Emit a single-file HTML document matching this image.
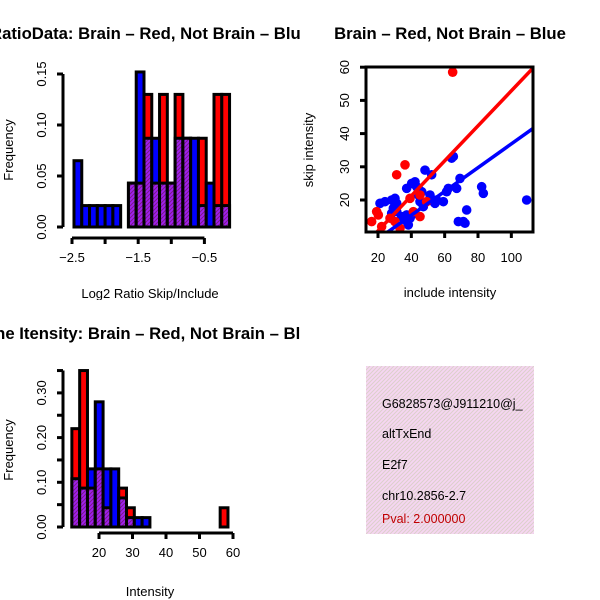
<!DOCTYPE html>
<html><head><meta charset="utf-8"><style>
html,body{margin:0;padding:0;background:#fff;}
svg{display:block;font-family:"Liberation Sans",sans-serif;}
</style></head><body>
<svg id="fig" width="600" height="600" xmlns="http://www.w3.org/2000/svg">
<defs>
<clipPath id="q1"><rect x="0" y="0" width="300" height="300"/></clipPath>
<clipPath id="q3"><rect x="0" y="300" width="300" height="300"/></clipPath>
<clipPath id="q4"><rect x="366" y="366" width="168" height="168"/></clipPath>
<clipPath id="scClip"><rect x="366" y="67" width="167" height="165"/></clipPath>
<pattern id="hatch" width="4" height="4" patternUnits="userSpaceOnUse">
<rect width="4" height="4" fill="#a020f0"/>
<path d="M-1,1 l2,-2 M0,4 l4,-4 M3,5 l2,-2" stroke="#7a1a8a" stroke-width="1"/>
</pattern>
<pattern id="pinkhatch" width="4" height="4" patternUnits="userSpaceOnUse">
<rect width="4" height="4" fill="#f6d6f2"/>
<path d="M-1,1 l2,-2 M0,4 l4,-4 M3,5 l2,-2" stroke="#dcd0cc" stroke-width="1"/>
</pattern>
</defs>
<g id="p1" clip-path="url(#q1)"></g>
<g id="p2"></g>
<g id="p3" clip-path="url(#q3)"></g>
<g id="p4">
<rect x="366" y="366" width="168" height="168" fill="url(#pinkhatch)"/>
<g clip-path="url(#q4)" font-size="12.5">
<text x="382" y="408">G6828573@J911210@j_</text>
<text x="382" y="438">altTxEnd</text>
<text x="382" y="469">E2f7</text>
<text x="382" y="500">chr10.2856-2.7</text>
<text x="382" y="523" fill="#c00000">Pval: 2.000000</text>
</g>
</g>
</svg>
<script>
// ---- Data: ratio histogram ----
const ratioBinStart = -2.47;
const ratioBinWidth = 0.1175;
const ratioBlue = [0.065,0.021,0.021,0.021,0.021,0.021,0,0.043,0.152,0.087,0.087,0.043,0.043,0.087,0.087,0.087,0.021,0.043,0.021,0.021];
const ratioRed  = [0,0,0,0,0,0,0,0.043,0.043,0.13,0.043,0.13,0.043,0.13,0.087,0,0.087,0,0.13,0.13];
const ratioXTicks = [-2.5,-2.0,-1.5,-1.0,-0.5];
const ratioXLabels = ["-2.5","","-1.5","","-0.5"];
const ratioYTicks = [0,0.05,0.10,0.15];
const ratioYLabels = ["0.00","0.05","0.10","0.15"];
// ---- Data: intensity histogram ----
const intBinStart = 11.9;
const intBinWidth = 2.33;
const intBlue = [0.108,0.087,0.13,0.28,0.13,0.13,0.065,0.021,0.021,0.021,0,0,0,0,0,0,0,0,0,0];
const intRed  = [0.22,0.35,0.087,0.13,0.043,0,0.087,0.043,0,0,0,0,0,0,0,0,0,0,0,0.043];
const intXTicks = [20,30,40,50,60];
const intYTicks = [0,0.05,0.10,0.15,0.20,0.25,0.30,0.35];
const intYLabels = ["0.00","","0.10","","0.20","","0.30",""];
// ---- Data: scatter ----
const blueX = [21.2,24.2,28.2,30.2,31.2,29.2,28.2,31.2,34.2,37.2,39.2,38.2,36.2,40.2,37.2,40.2,42.2,43.2,44.2,45.2,47.2,48.2,51.2,52.2,54.2,55.2,59.2,61.2,62.2,64.2,65.2,67.2,68.2,69.2,71.2,72.2,73.2,82.2,83.2,109.2,44.2,46.2,53.2];
const blueY = [19.0,19.5,20.0,20.5,19.0,17.5,16.0,16.5,15.0,15.5,14.5,12.5,14.0,15.5,23.5,25.0,25.5,24.0,21.5,19.5,18.0,29.0,21.5,27.6,19.0,20.0,19.5,22.5,23.5,32.6,33.1,23.5,13.5,26.5,13.5,13.0,17.0,24.0,22.0,20.0,23.5,22.5,19.5];
const redX = [64.8,36.2,31.2,16.2,20.2,19.2,22.2,27.2,30.2,33.2,41.2,45.2,39.2,45.2,49.2];
const redY = [58.5,30.6,27.6,13.5,15.5,16.5,12.0,14.5,13.5,11.5,16.5,15.0,20.5,21.5,19.5];
const redFit = [0.18,0.527];   // intercept, slope
const blueFit = [1.1,0.358];
const scXTicks = [20,40,60,80,100];
const scYTicks = [20,30,40,50,60];

const NS="http://www.w3.org/2000/svg";
function mk(parent,tag,attrs){const e=document.createElementNS(NS,tag);for(const k in attrs)e.setAttribute(k,attrs[k]);parent.appendChild(e);return e;}

function histogram(g,o){
  const sx=v=>o.x0+(v-o.xv0)*o.kx, sy=v=>o.y0-v*o.ky;
  for(let i=0;i<o.blue.length;i++){
    const b=o.blue[i], r=o.red[i];
    const xl=sx(o.start+i*o.width), xr=sx(o.start+(i+1)*o.width);
    const hi=Math.max(b,r), lo=Math.min(b,r);
    if(hi>0){
      const el=mk(g,'rect',{x:xl,y:sy(hi),width:xr-xl,height:sy(0)-sy(hi),fill:b>=r?'#0000ff':'#ff0000',stroke:'#000','stroke-width':3});
      
      
    }
    if(lo>0){
      const el=mk(g,'rect',{x:xl,y:sy(lo),width:xr-xl,height:sy(0)-sy(lo),fill:'url(#hatch)',stroke:'#000','stroke-width':3});
      
      
    }
  }
  const xa=mk(g,'g',{});
  
  
  mk(xa,'line',{x1:sx(o.xt[0]),x2:sx(o.xt[o.xt.length-1]),y1:o.axY,y2:o.axY,stroke:'#000','stroke-width':3});
  o.xt.forEach((t,i)=>{
    mk(xa,'line',{x1:sx(t),x2:sx(t),y1:o.axY,y2:o.axY+6,stroke:'#000','stroke-width':3});
    const lab=o.xl?o.xl[i]:String(t);
    if(lab){const tx=mk(xa,'text',{x:sx(t),y:o.axY+24,'text-anchor':'middle','font-size':13});tx.textContent=lab.replace('-','\u2212');}
  });
  const ya=mk(g,'g',{});
  
  
  mk(ya,'line',{x1:o.axX,x2:o.axX,y1:sy(o.yt[0]),y2:sy(o.yt[o.yt.length-1]),stroke:'#000','stroke-width':3});
  o.yt.forEach((t,i)=>{
    mk(ya,'line',{x1:o.axX,x2:o.axX-6,y1:sy(t),y2:sy(t),stroke:'#000','stroke-width':3});
    if(o.yl[i]){const tx=mk(ya,'text',{x:o.axX-17,y:sy(t),'text-anchor':'middle','font-size':13,transform:`rotate(-90 ${o.axX-17} ${sy(t)})`});tx.textContent=o.yl[i];}
  });
  const xt=mk(g,'text',{x:o.xTitleX,y:o.xTitleY,'text-anchor':'middle','font-size':13});
  xt.textContent=o.xTitle;
  
  
  const yt=mk(g,'text',{x:13,y:o.yTitleY,'text-anchor':'middle','font-size':13,transform:`rotate(-90 13 ${o.yTitleY})`});
  yt.textContent='Frequency';
  
  
  const tt=mk(g,'text',{x:150,y:o.titleY,'text-anchor':'middle','font-size':16.7,'font-weight':'bold'});
  tt.textContent=o.title;
  
  
}

const p1=document.getElementById('p1');


histogram(p1,{blue:ratioBlue,red:ratioRed,start:ratioBinStart,width:ratioBinWidth,
  x0:72,xv0:-2.5,kx:66.2,y0:227,ky:1020,axY:238,axX:63,
  xt:ratioXTicks,xl:ratioXLabels,yt:ratioYTicks,yl:ratioYLabels,
  xTitle:'Log2 Ratio Skip/Include',xTitleX:150,xTitleY:298,yTitleY:150,
  title:'RatioData: Brain \u2013 Red, Not Brain \u2013 Blue',titleY:39});

const p3=document.getElementById('p3');


histogram(p3,{blue:intBlue,red:intRed,start:intBinStart,width:intBinWidth,
  x0:99,xv0:20,kx:3.35,y0:527,ky:447,axY:533,axX:63,
  xt:intXTicks,yt:intYTicks,yl:intYLabels,
  xTitle:'Intensity',xTitleX:150,xTitleY:596,yTitleY:450,
  title:'Line Itensity: Brain \u2013 Red, Not Brain \u2013 Blue',titleY:339});

const p2=document.getElementById('p2');


const sx=v=>378+(v-20)*1.6667, sy=v=>200-(v-20)*3.32;
const plotArea=mk(p2,'g',{'clip-path':'url(#scClip)'});
blueX.forEach((x,i)=>{const c=mk(plotArea,'circle',{cx:sx(x),cy:sy(blueY[i]),r:4.8,fill:'#0000ff'});
  
  });
redX.forEach((x,i)=>{const c=mk(plotArea,'circle',{cx:sx(x),cy:sy(redY[i]),r:4.8,fill:'#ff0000'});
  
  });
[[redFit,'#ff0000','red-fit-line'],[blueFit,'#0000ff','blue-fit-line']].forEach(([f,col,nm])=>{
  const xa=0,xb=120;
  const l=mk(plotArea,'line',{x1:sx(xa),y1:sy(f[0]+f[1]*xa),x2:sx(xb),y2:sy(f[0]+f[1]*xb),stroke:col,'stroke-width':3.5});
  
  
});
const box=mk(p2,'rect',{x:366,y:67,width:167,height:165,fill:'none',stroke:'#000','stroke-width':3});


scXTicks.forEach(t=>{
  mk(p2,'line',{x1:sx(t),x2:sx(t),y1:232,y2:238,stroke:'#000','stroke-width':3});
  const tx=mk(p2,'text',{x:sx(t),y:262,'text-anchor':'middle','font-size':13});tx.textContent=t;
  
  
});
scYTicks.forEach(t=>{
  mk(p2,'line',{x1:366,x2:360,y1:sy(t),y2:sy(t),stroke:'#000','stroke-width':3});
  const tx=mk(p2,'text',{x:349,y:sy(t),'text-anchor':'middle','font-size':13,transform:`rotate(-90 349 ${sy(t)})`});tx.textContent=t;
  
  
});
let t2=mk(p2,'text',{x:450,y:297,'text-anchor':'middle','font-size':13});t2.textContent='include intensity';


t2=mk(p2,'text',{x:313,y:150,'text-anchor':'middle','font-size':13,transform:'rotate(-90 313 150)'});t2.textContent='skip intensity';


t2=mk(p2,'text',{x:450,y:39,'text-anchor':'middle','font-size':16.7,'font-weight':'bold'});t2.textContent='Brain \u2013 Red, Not Brain \u2013 Blue';


</script>
</body></html>
